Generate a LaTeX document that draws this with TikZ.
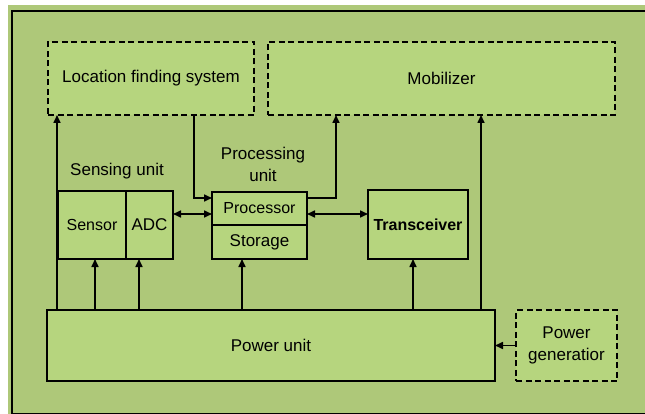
\documentclass[tikz,border=0pt]{standalone}
\usepackage{fontspec}
\setmainfont{Liberation Sans}
\usetikzlibrary{positioning,arrows.meta}
\definecolor{bggreen}{RGB}{174,200,121}
\definecolor{boxgreen}{RGB}{182,213,126}
\tikzstyle{unit} = [rectangle, draw=black, line width=1.6pt, fill=boxgreen, outer sep=0pt, inner sep=2pt, text centered]
\tikzstyle{optunit} = [unit, dash pattern=on 6pt off 3.5pt]
\tikzstyle{caption} = [align=center]
\tikzstyle{arrow} = [line width=1.6pt, -{Triangle[length=8pt,width=7pt]}]
\tikzstyle{dblarrow} = [line width=1.6pt, {Triangle[length=8pt,width=7pt]}-{Triangle[length=8pt,width=7pt]}]
\def\smallfont{\fontsize{16pt}{20pt}\selectfont}

\begin{document}
\begin{tikzpicture}[x=1pt, y=-1pt, font=\fontsize{17pt}{22pt}\selectfont]
\useasboundingbox (0,0) rectangle (645,414);
\clip (0,0) rectangle (645,414);
\fill[bggreen] (8,5) rectangle (660,430);
\draw[line width=2pt] (660,11) -- (12,11) -- (12,414) -- (660,414);

% optional parts (dashed)
\node (loc) [optunit, minimum width=206pt, minimum height=73pt] at (151,78.5) {Location finding system};
\node (mob) [optunit, minimum width=347pt, minimum height=73pt] at (441.5,78.5) {Mobilizer};

% sensing unit
\node (sensor) [unit, minimum width=68pt, minimum height=68pt, font=\smallfont] at (92,225) {Sensor};
\node (adc) [unit, right=0pt of sensor, minimum width=47pt, minimum height=68pt] {ADC};
\node (senslbl) [caption] at (117,171) {Sensing unit};

% processing unit
\node (proc) [unit, minimum width=95pt, minimum height=33pt, font=\smallfont] at (259.5,208.5) {Processor};
\node (stor) [unit, below=0pt of proc, minimum width=95pt, minimum height=34pt] {Storage};
\node (proclbl) [caption] at (263,164) {Processing\\unit};

\node (trans) [unit, minimum width=100pt, minimum height=69pt, font=\smallfont\bfseries] at (418,224.5) {Transceiver};

% power
\node (power) [unit, minimum width=448pt, minimum height=71pt] at (271,345.5) {Power unit};
\node (gen) [optunit, minimum width=101pt, minimum height=71pt, align=center] at (566.5,345.5) {Power\\generatior};

% supply lines out of the power unit
\foreach \tgt/\x in {loc/57, sensor/95, adc/139, stor/242, trans/413, mob/481} {
  \coordinate (in-\tgt) at (\x,0);
  \draw [arrow] (power.north -| in-\tgt) -- (\tgt.south -| in-\tgt);
}

\coordinate (feedx) at (194,0);
\coordinate (outx) at (336,0);
\coordinate (feedy) at (0,198);
\coordinate (busy) at (0,214);

\draw [arrow] (loc.south -| feedx) |- (proc.west |- feedy);
\draw [arrow] (proc.east |- feedy) -| (mob.south -| outx);
\draw [dblarrow] (adc.east |- busy) -- (proc.west |- busy);
\draw [dblarrow] (proc.east |- busy) -- (trans.west |- busy);
\draw [arrow] (gen.west) -- (power.east);

\end{tikzpicture}
\end{document}
